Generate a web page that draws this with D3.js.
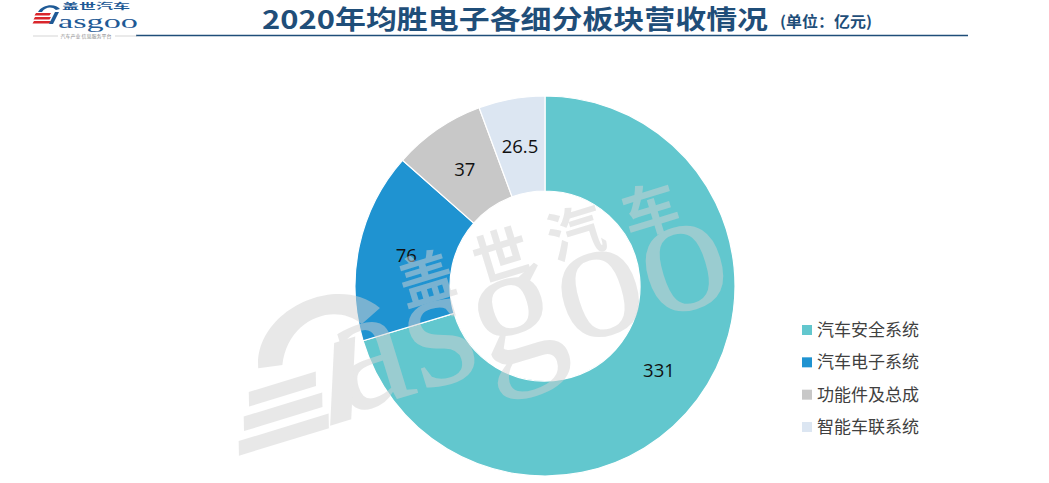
<!DOCTYPE html>
<html><head><meta charset="utf-8">
<script src="https://cdn.jsdelivr.net/npm/d3@7"></script>
<style>html,body{margin:0;padding:0;background:#fff;}svg{display:block;}</style>
</head><body>
<svg id="c" width="1049" height="483"></svg>
<script>
const categories = ["汽车安全系统","汽车电子系统","功能件及总成","智能车联系统"];
const values = [331, 76, 37, 26.5];
const labels = ["331","76","37","26.5"];
const colors = ["#62C7CE","#1F93D1","#C8C8C8","#DCE6F2"];

const svg = d3.select("#c");
const cx = 545, cy = 286, R = 190, r = 95;

// Title
svg.append("text").attr("x", 262).attr("y", 29)
  .attr("font-family","Noto Sans CJK SC").attr("font-weight","bold")
  .attr("font-size", 26).attr("fill","#1F4E79")
  .attr("textLength", 506).attr("lengthAdjust","spacingAndGlyphs")
  .text("2020年均胜电子各细分板块营收情况");
svg.append("text").attr("x", 780).attr("y", 27)
  .attr("font-family","Noto Sans CJK SC").attr("font-weight","bold")
  .attr("font-size", 15).attr("fill","#1F4E79")
  .attr("textLength", 92).attr("lengthAdjust","spacingAndGlyphs")
  .text("(单位：亿元)");
svg.append("line").attr("x1",136).attr("x2",968).attr("y1",35.5).attr("y2",35.5)
  .attr("stroke","#1F4E79").attr("stroke-width",1.5);

// Logo top-left
const logo = svg.append("g");
logo.append("text").attr("x",62).attr("y",8.5).attr("font-family","Noto Sans CJK SC")
  .attr("font-weight","bold").attr("font-size",7.5).attr("fill","#1F5A96")
  .attr("textLength",68).attr("lengthAdjust","spacingAndGlyphs").text("盖世汽车");
[13,17,21].forEach((y,i)=>{
  logo.append("path").attr("d",`M${36-i},${y} L${51},${y} L${49.5},${y+2.6} L${34.5-i},${y+2.6}Z`).attr("fill","#D9262C");
});
logo.append("path").attr("d","M38,12 C42,4 56,3 60,9 L56,10 C52,6 45,7 42,12 Z").attr("fill","#1F5A96");
logo.append("path").attr("d","M49,24 L55,12 L59,12 L53,24 Z").attr("fill","#1F5A96");
logo.append("text").attr("x",58).attr("y",28).attr("font-family","Liberation Serif")
  .attr("font-size",19).attr("fill","#1F5A96")
  .attr("textLength",80).attr("lengthAdjust","spacingAndGlyphs").text("asgoo");
logo.append("line").attr("x1",33).attr("x2",58).attr("y1",36).attr("y2",36).attr("stroke","#bbb").attr("stroke-width",0.6);
logo.append("line").attr("x1",115).attr("x2",137).attr("y1",36).attr("y2",36).attr("stroke","#bbb").attr("stroke-width",0.6);
logo.append("text").attr("x",86).attr("y",38).attr("text-anchor","middle").attr("font-family","Noto Sans CJK SC")
  .attr("font-size",5).attr("fill","#888").text("汽车产业 信息服务平台");

// Donut
const pie = d3.pie().sort(null).value(d=>d);
const arcs = pie(values);
const arc = d3.arc().innerRadius(r).outerRadius(R);
const labelArc = d3.arc().innerRadius(142).outerRadius(142);
const g = svg.append("g").attr("transform",`translate(${cx},${cy})`);
g.selectAll("path.slice").data(arcs).join("path").attr("class","slice")
  .attr("d",arc).attr("fill",(d,i)=>colors[i]).attr("stroke","#fff").attr("stroke-width",1.2);

// Watermark
const wc = "#d2d2d2";
const wm = svg.append("g").attr("transform","translate(338,417) rotate(-17)").attr("opacity",0.5);
wm.append("text").attr("x",8).attr("y",0).attr("font-family","Liberation Serif")
  .attr("font-size",176).attr("fill",wc).text("asgoo");
wm.append("text").attr("x",97).attr("y",-86).attr("font-family","Noto Sans CJK SC").attr("font-weight","bold")
  .attr("font-size",56).attr("fill",wc).attr("letter-spacing",22).text("盖世汽车");
wm.append("path").attr("d","M-62,-70 C-50,-125 40,-140 72,-92 L50,-82 C30,-112 -20,-108 -38,-66 Z").attr("fill",wc);
[0,1,2].forEach(i=>{
  const y = -50 + i*22, x0 = -78 - i*12;
  wm.append("path").attr("d",`M${x0},${y} L${-8},${y} L${-12},${y+14} L${x0-4},${y+14}Z`).attr("fill",wc);
});
wm.append("path").attr("d","M-10,6 L12,6 L40,-72 L18,-72 Z").attr("fill",wc);

// Labels
g.selectAll("text.lbl").data(arcs).join("text").attr("class","lbl")
  .attr("transform",d=>`translate(${labelArc.centroid(d)})`)
  .attr("text-anchor","middle").attr("dy","0.36em")
  .attr("font-family","Open Sans").attr("font-size",18.5).attr("fill","#111")
  .text((d,i)=>labels[i]);

// Legend
const lg = svg.append("g");
const rowY = d3.scalePoint().domain(categories).range([330, 427]);
categories.forEach((c,i)=>{
  const y = rowY(c);
  lg.append("rect").attr("x",802).attr("y",y-5).attr("width",10).attr("height",10).attr("fill",colors[i]);
  lg.append("text").attr("x",817).attr("y",y).attr("dy","0.36em")
    .attr("font-family","Noto Sans CJK SC").attr("font-size",17).attr("fill","#404040").text(c);
});
</script>
</body></html>
